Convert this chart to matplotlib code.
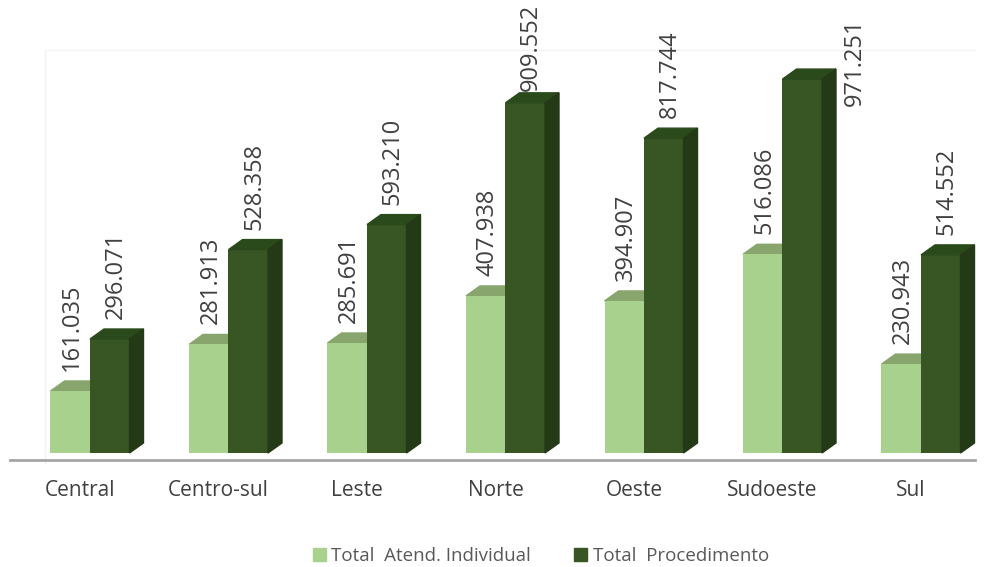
import matplotlib.pyplot as plt
from matplotlib.patches import Polygon, Patch

categories = ['Central', 'Centro-sul', 'Leste', 'Norte', 'Oeste', 'Sudoeste', 'Sul']
atend = [161035, 281913, 285691, 407938, 394907, 516086, 230943]
proced = [296071, 528358, 593210, 909552, 817744, 971251, 514552]
labels_atend = ['161.035', '281.913', '285.691', '407.938', '394.907', '516.086', '230.943']
labels_proced = ['296.071', '528.358', '593.210', '909.552', '817.744', '971.251', '514.552']
series_names = ['Total  Atend. Individual', 'Total  Procedimento']

c_light, c_light_top = '#a9d18e', '#87a56d'
c_dark, c_dark_top, c_dark_side = '#375623', '#2b4a1c', '#243a17'
txt = '#404040'

W, H = 987, 567
fig = plt.figure(figsize=(W / 100, H / 100), dpi=100)
ax = fig.add_axes([0, 0, 1, 1])

# pixel scale of the axes
px_x = 138.5          # pixels per category
px_y = 0.000385       # pixels per unit of value
base_px = 453         # baseline (from top)
x0_px = 90            # front centre of first pair
ax.set_xlim(-x0_px / px_x, (W - x0_px) / px_x)
ax.set_ylim(-(H - base_px) / px_y, base_px / px_y)
ax.axis('off')

bw = 39.5 / px_x
dx = 14 / px_x
dy = 10 / px_y
gap = 10 / px_y
lab_len = 84 / px_y
top_lim = (base_px - 7) / px_y
x = list(range(len(categories)))

# faint back wall
ax.plot([-45 / px_x, -45 / px_x, (975 - x0_px) / px_x], [-10 / px_y, (base_px - 50) / px_y, (base_px - 50) / px_y],
        color='#f2f2f2', lw=1, zorder=0)

ax.bar([i - bw / 2 for i in x], atend, width=bw, color=c_light, zorder=2)
ax.bar([i + bw / 2 for i in x], proced, width=bw, color=c_dark, zorder=3)

font = dict(rotation=90, ha='center', fontsize=17, color=txt, family='Open Sans', zorder=5)

for i in x:
    # light bar top
    l, r, t = i - bw, i, atend[i]
    ax.add_patch(Polygon([(l, t), (r, t), (r + dx, t + dy), (l + dx, t + dy)], color=c_light_top, zorder=1))
    # dark bar top and side
    l, r, t = i, i + bw, proced[i]
    ax.add_patch(Polygon([(l, t), (r, t), (r + dx, t + dy), (l + dx, t + dy)], color=c_dark_top, zorder=3))
    ax.add_patch(Polygon([(r, 0), (r + dx, dy), (r + dx, t + dy), (r, t)], color=c_dark_side, zorder=3))

    ax.text(i - bw / 2 + 2 / px_x, atend[i] + dy + gap, labels_atend[i], va='bottom', **font)

    bottom = proced[i] + dy + gap
    if bottom + lab_len > top_lim:
        bottom = top_lim - lab_len
    if bottom < proced[i] + dy - 5 / px_y:
        ax.text(i + bw + dx + 19 / px_x, (base_px - 18) / px_y, labels_proced[i], va='top', **font)
    else:
        ax.text(i + bw / 2 + 6 / px_x, bottom, labels_proced[i], va='bottom', **font)

    ax.text(i - 10 / px_x, -37 / px_y, categories[i], ha='center', va='center',
            fontsize=15, color='#404040', family='Open Sans')

# axis line
ax.plot([(10 - x0_px) / px_x, (975 - x0_px) / px_x], [-7 / px_y, -7 / px_y], color='#a6a6a6', lw=2, zorder=4)

handles = [Patch(color=c_light), Patch(color=c_dark)]
leg = fig.legend(handles, series_names, loc='center', bbox_to_anchor=(0.548, 1 - 556 / H), ncol=2,
                 frameon=False, handlelength=0.7, handleheight=0.7, handletextpad=0.3,
                 columnspacing=2.3, prop={'family': 'Open Sans', 'size': 13.5})
for t in leg.get_texts():
    t.set_color('#595959')

fig.savefig('out.png', dpi=100)
